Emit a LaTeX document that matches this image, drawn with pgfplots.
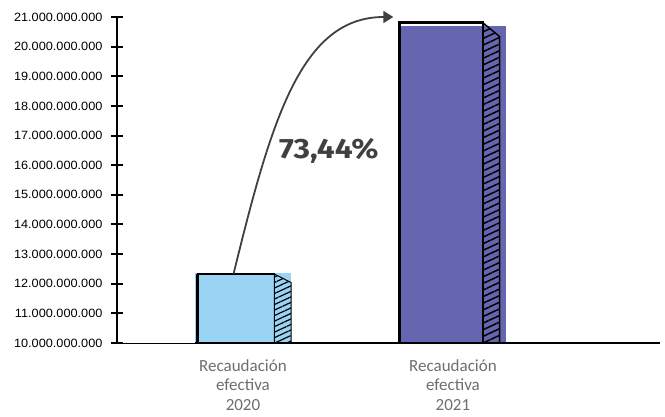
\documentclass[border=0pt]{standalone}
\usepackage{pgfplots}
\pgfplotsset{compat=1.18}
\usetikzlibrary{patterns.meta, arrows.meta}
\usepackage{fontspec}
\setmainfont{Liberation Sans}[FakeStretch=1.06]
\newfontfamily\catfont{Carlito}
\newfontfamily\pctfont{Fira Sans}[FakeStretch=1.13]
\definecolor{c20}{HTML}{99D4F5}
\definecolor{c21}{HTML}{6666B0}
\definecolor{lab}{HTML}{6E6E6E}
\definecolor{arr}{HTML}{404040}
\begin{document}
\begin{tikzpicture}
\useasboundingbox (-117pt,-73pt) rectangle (548pt,343pt);
\begin{axis}[
  at={(0pt,0pt)}, anchor=south west,
  scale only axis, width=543pt, height=326pt,
  xmin=0.4, xmax=2.986,
  ymin=10000000000, ymax=21000000000,
  clip mode=individual,
  axis on top,
  axis lines=left, axis line style={-},
  x axis line style={line width=1pt},
  y axis line style={line width=2.4pt},
  xtick={1,2},
  xticklabels={{Recaudación\\efectiva\\2020},{Recaudación\\efectiva\\2021}},
  xtick style={draw=none},
  xticklabel style={align=center, text=lab, font=\catfont\fontsize{17}{19.5}\selectfont, yshift=-7pt},
  ytick={10000000000,11000000000,12000000000,13000000000,14000000000,15000000000,16000000000,17000000000,18000000000,19000000000,20000000000,21000000000},
  scaled y ticks=false,
  yticklabel style={font=\fontsize{12}{14}\selectfont, text=black, xshift=-5pt,
    /pgf/number format/fixed, /pgf/number format/precision=0,
    /pgf/number format/1000 sep={.}, /pgf/number format/assume math mode=true},
  ytick style={line width=2pt, black},
  tick align=center, major tick length=12pt,
]
% filled bars
\addplot[ybar, bar shift=0pt, bar width=0.458, fill=c20, draw=none] coordinates {(1,12360000000)};
\addplot[ybar, bar shift=0pt, bar width=0.501, fill=c21, draw=none] coordinates {(2,20680000000)};
% thick sketched baseline
\addplot[black, line width=2.4pt] coordinates {(0.77,10000000000) (2.986,10000000000)};
% sketch outlines, front faces
\addplot[black, line width=1.4pt, fill=none] coordinates {(0.785,10000000000) (0.785,12330000000) (1.149,12330000000) (1.149,10000000000)};
\addplot[black, line width=2.8pt] coordinates {(0.785,10000000000) (0.785,12330000000)};
\addplot[black, line width=2.4pt, fill=none] coordinates {(1.745,10000000000) (1.745,20810000000) (2.142,20810000000) (2.142,10000000000)};
% hatched side faces
\addplot[black, line width=1pt, pattern={Lines[angle=25, distance=5pt, line width=1.2pt]}, pattern color=black] coordinates {(1.149,10000000000) (1.149,12330000000) (1.229,12040000000) (1.229,10000000000)} --cycle;
\addplot[black, line width=1.4pt, pattern={Lines[angle=25, distance=6pt, line width=1.5pt]}, pattern color=black] coordinates {(2.142,10000000000) (2.142,20810000000) (2.222,20340000000) (2.222,10000000000)} --cycle;
% growth arrow
\draw[arr, line width=1.8pt, -{Triangle[length=10pt,width=12pt]}]
  (axis cs:0.955,12330000000) .. controls (axis cs:1.1348,17525000000) and (axis cs:1.2766,21000000000) .. (axis cs:1.716,21000000000);
\node[anchor=base, text=arr, font=\pctfont\bfseries\fontsize{28}{32}\selectfont] at (axis cs:1.409,16210000000) {73,44\%};
\end{axis}
\end{tikzpicture}
\end{document}
